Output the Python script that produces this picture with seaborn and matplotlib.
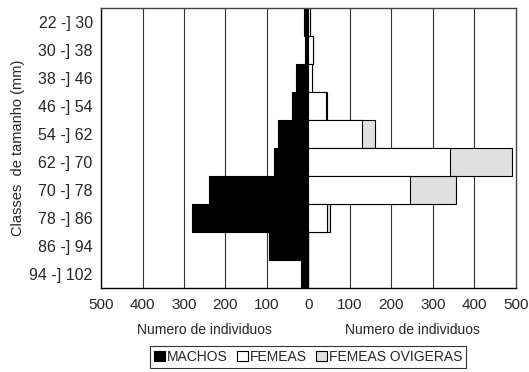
import numpy as np
import pandas as pd
import matplotlib
matplotlib.use('Agg')
import matplotlib.pyplot as plt
import matplotlib.transforms as mtransforms
from matplotlib.patches import Patch
import seaborn as sns

# ── Data ─────────────────────────────────────────────────────────────────────
classes = ['22 -] 30', '30 -] 38', '38 -] 46', '46 -] 54', '54 -] 62',
           '62 -] 70', '70 -] 78', '78 -] 86', '86 -] 94', '94 -] 102']
machos = [10, 8, 29, 39, 74, 84, 240, 281, 96, 18]
femeas = [4, 10, 9, 42, 129, 342, 245, 44, 0, 0]
ovigeras = [0, 0, 0, 3, 32, 150, 111, 9, 0, 0]
xticks = [-500, -400, -300, -200, -100, 0, 100, 200, 300, 400, 500]

df = pd.DataFrame({'classe': classes, 'machos': machos,
                   'femeas': femeas, 'ovigeras': ovigeras})
df['machos_neg'] = -df['machos']
df['total_fem'] = df['femeas'] + df['ovigeras']

sns.set_style('white')
plt.rcParams['font.family'] = ['Liberation Sans', 'DejaVu Sans']

fig = plt.figure(figsize=(5.29, 3.72), dpi=100)
ax = fig.add_axes([0.191, 0.226, 0.784, 0.752])

bar_kw = dict(orient='h', width=1, edgecolor='black', linewidth=0.8, ax=ax)
sns.barplot(data=df, x='machos_neg', y='classe', order=classes, color='black', **bar_kw)
sns.barplot(data=df, x='total_fem', y='classe', order=classes, color='#e0e0e0', **bar_kw)
sns.barplot(data=df, x='femeas', y='classe', order=classes, color='white', **bar_kw)

ax.set_xlim(-500, 500)
ax.set_ylim(len(classes) - 0.5, -0.5)
ax.set_xticks(xticks)
ax.set_xticklabels([str(abs(v)) for v in xticks], fontsize=11)
ax.tick_params(axis='y', labelsize=11.5, length=0, pad=6)
ax.tick_params(axis='x', length=0, pad=7)
for v in xticks[1:-1]:
    ax.axvline(v, color='#333333', lw=0.8, zorder=0)
for s in ax.spines.values():
    s.set_color('#444444')
    s.set_linewidth(1.0)
ax.spines['left'].set_color('black')
ax.spines['bottom'].set_color('black')

ax.set_xlabel('')
ax.set_ylabel('Classes  de tamanho (mm)', fontsize=10.5)
ax.yaxis.set_label_coords(-0.183, 0.5)

trans = mtransforms.blended_transform_factory(ax.transData, ax.transAxes)
ax.text(-250, -0.15, 'Numero de individuos', transform=trans, ha='center',
        va='center', fontsize=10)
ax.text(250, -0.15, 'Numero de individuos', transform=trans, ha='center',
        va='center', fontsize=10)

handles = [Patch(facecolor='black', edgecolor='black', lw=0.8),
           Patch(facecolor='white', edgecolor='black', lw=0.8),
           Patch(facecolor='#e0e0e0', edgecolor='black', lw=0.8)]
leg = fig.legend(handles, ['MACHOS', 'FEMEAS', 'FEMEAS OVIGERAS'], ncol=3,
                 loc='center', bbox_to_anchor=(308 / 529, 1 - 357 / 372),
                 fontsize=10, handlelength=0.8, handleheight=0.8,
                 handletextpad=0.1, columnspacing=0.7, fancybox=False,
                 frameon=True, borderpad=0.3)
leg.get_frame().set_edgecolor('black')
leg.get_frame().set_linewidth(0.8)

fig.savefig('out.png', dpi=100)
